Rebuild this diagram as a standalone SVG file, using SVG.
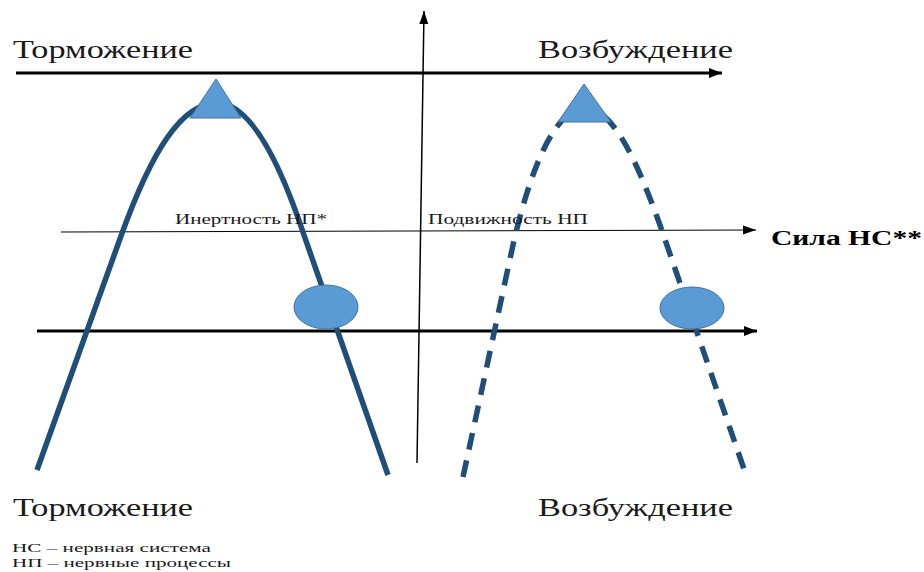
<svg xmlns="http://www.w3.org/2000/svg" width="924" height="572" viewBox="0 0 924 572">
<style>
  .lbl { font-family: "Liberation Serif", "DejaVu Serif", serif; fill: #1a1a1a; }
  .big { font-size: 25px; }
  .mid { font-size: 14px; }
  .note { font-size: 13px; }
  .bold { font-size: 20px; font-weight: bold; fill: #000; }
  .curve { fill: none; stroke: #1f4e79; stroke-width: 5.5; stroke-linecap: butt; stroke-linejoin: round; }
  .dash { stroke-dasharray: 17 11; }
  .shape { fill: #5b9bd5; stroke: #41719c; stroke-width: 1; }
  .axis { fill: none; stroke: #000; }
</style>
<defs>
  <marker id="ah" markerUnits="userSpaceOnUse" markerWidth="14" markerHeight="12" refX="13" refY="6" orient="auto">
    <polygon points="0,1 13,6 0,11" fill="#000"/>
  </marker>
  <marker id="ahs" markerUnits="userSpaceOnUse" markerWidth="14" markerHeight="10" refX="13" refY="5" orient="auto">
    <polygon points="0,0.5 13,5 0,9.5" fill="#000"/>
  </marker>
</defs>
<rect width="924" height="572" fill="#fff"/>

<g id="connectors">
  <line class="axis" x1="16" y1="73" x2="722" y2="73" stroke-width="3" marker-end="url(#ah)"/>
  <line class="axis" x1="417" y1="463" x2="424" y2="11" stroke-width="1.5" stroke="#222" marker-end="url(#ahs)"/>
  <line class="axis" x1="61" y1="232" x2="756" y2="230" stroke-width="1" stroke="#333" marker-end="url(#ahs)"/>
  <line class="axis" x1="37" y1="331" x2="757" y2="331" stroke-width="3" marker-end="url(#ah)"/>
</g>

<g id="inertia-curve">
  <path class="curve" d="M37,470 L121,236 C152,150 182,103 217,103 C252,103 282,168 305,238 L388,475"/>
</g>
<g id="mobility-curve">
  <path class="curve dash" d="M463,477 L513,245 C530,170 555,108 585,108 C615,108 640,170 660,225 L745,472"/>
</g>

<g id="triangle-left"><polygon class="shape" points="216,79 190,118 241,118"/></g>
<g id="triangle-right"><polygon class="shape" points="584,84 558,122 611,122"/></g>
<g id="circle-left"><ellipse class="shape" cx="326" cy="307" rx="32" ry="22"/></g>
<g id="circle-right"><ellipse class="shape" cx="692" cy="308" rx="32" ry="21"/></g>

<g id="labels">
  <text class="lbl big" font-family="Liberation Serif" x="13" y="58" textLength="180" lengthAdjust="spacingAndGlyphs">Торможение</text>
  <text class="lbl big" x="538" y="58" textLength="195" lengthAdjust="spacingAndGlyphs">Возбуждение</text>
  <text class="lbl big" x="13" y="516" textLength="180" lengthAdjust="spacingAndGlyphs">Торможение</text>
  <text class="lbl big" x="538" y="516" textLength="195" lengthAdjust="spacingAndGlyphs">Возбуждение</text>
  <text class="lbl mid" x="175" y="224" textLength="152" lengthAdjust="spacingAndGlyphs">Инертность НП*</text>
  <text class="lbl mid" x="428" y="224" textLength="160" lengthAdjust="spacingAndGlyphs">Подвижность НП</text>
  <text class="lbl bold" x="771" y="245" textLength="151" lengthAdjust="spacingAndGlyphs">Сила НС**</text>
  <text class="lbl note" x="12" y="552" textLength="199" lengthAdjust="spacingAndGlyphs">НС – нервная система</text>
  <text class="lbl note" x="12" y="567" textLength="219" lengthAdjust="spacingAndGlyphs">НП – нервные процессы</text>
</g>
</svg>
